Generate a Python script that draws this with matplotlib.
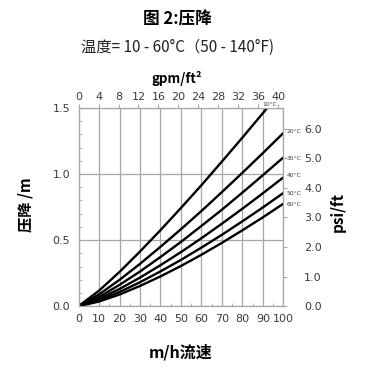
import numpy as np
import matplotlib.pyplot as plt
from matplotlib.ticker import MultipleLocator

plt.rcParams['font.family'] = ['DejaVu Sans', 'Noto Sans CJK SC']
cjk = ['Noto Sans CJK SC', 'DejaVu Sans']

# flow, m/h
flow = [0, 10, 20, 30, 40, 50, 60, 70, 80, 90, 100]
# pressure drop, m
temps = ['10°C', '20°C', '30°C', '40°C', '50°C', '60°C']
dp_10 = [0, 0.117, 0.259, 0.413, 0.575, 0.743, 0.915, 1.094, 1.275, 1.46, 1.648]
dp_20 = [0, 0.089, 0.199, 0.320, 0.449, 0.582, 0.720, 0.863, 1.009, 1.158, 1.31]
dp_30 = [0, 0.069, 0.161, 0.262, 0.372, 0.486, 0.607, 0.730, 0.859, 0.991, 1.125]
dp_40 = [0, 0.055, 0.130, 0.216, 0.310, 0.409, 0.514, 0.624, 0.737, 0.854, 0.974]
dp_50 = [0, 0.044, 0.107, 0.181, 0.263, 0.350, 0.443, 0.540, 0.642, 0.747, 0.856]
dp_60 = [0, 0.035, 0.088, 0.153, 0.225, 0.304, 0.389, 0.479, 0.574, 0.672, 0.775]
curves = [dp_10, dp_20, dp_30, dp_40, dp_50, dp_60]

gpm_max = 41.0   # top axis at x=100 m/h
psi_max = 6.7    # right axis at y=1.5 m

grey = '#a6a6a6'
txt = '#3a3a3a'

fig = plt.figure(figsize=(3.85, 3.72), dpi=100)
ax = fig.add_axes([0.204, 0.177, 0.532, 0.533])

for c in curves:
    ax.plot(flow, c, color='black', lw=1.7, solid_capstyle='butt')

ax.set_xlim(0, 100)
ax.set_ylim(0, 1.5)
ax.xaxis.set_major_locator(MultipleLocator(10))
ax.xaxis.set_minor_locator(MultipleLocator(5))
ax.yaxis.set_major_locator(MultipleLocator(0.5))
ax.yaxis.set_minor_locator(MultipleLocator(0.1))
ax.yaxis.set_major_formatter('{x:.1f}')
ax.grid(True, which='major', color=grey, lw=0.9)
for s in ax.spines.values():
    s.set_color(grey)
    s.set_linewidth(0.9)
ax.tick_params(which='both', direction='in', color=grey, labelsize=8, labelcolor=txt)
ax.tick_params(which='major', length=0, pad=6)
ax.tick_params(which='minor', length=2)

# right axis psi/ft
ax2 = ax.twinx()
ax2.set_ylim(0, psi_max)
ax2.yaxis.set_major_locator(MultipleLocator(1))
ax2.yaxis.set_major_formatter('{x:.1f}')
ax2.tick_params(axis='y', direction='out', length=3, color=grey, labelsize=8,
                labelcolor=txt, pad=12)
for s in ax2.spines.values():
    s.set_visible(False)

# top axis gpm/ft2
ax3 = ax.twiny()
ax3.set_xlim(0, gpm_max)
ax3.xaxis.set_major_locator(MultipleLocator(4))
ax3.tick_params(axis='x', direction='out', length=3, color=grey, labelsize=8,
                labelcolor=txt, pad=1)
for s in ax3.spines.values():
    s.set_visible(False)

# temperature labels
lab_pos = [(89.5, 1.51), (101.5, 1.32), (101.5, 1.12),
           (101.5, 0.985), (101.5, 0.855), (101.5, 0.77)]
for t, (x, y) in zip(temps, lab_pos):
    ax.text(x, y, t, fontsize=4.3, ha='left', va='bottom' if t == '10°C' else 'center',
            color=txt, clip_on=False)

fig.text(0.462, 0.948, '图 2:压降', ha='center', va='center', fontsize=12,
         fontweight='bold', family=cjk)
fig.text(0.462, 0.873, '温度= 10 - 60°C（50 - 140°F)', ha='center', va='center',
         fontsize=11, family=cjk, color='#222222')
fig.text(0.46, 0.79, 'gpm/ft²', ha='center', va='center', fontsize=9.5,
         fontweight='bold', family=cjk)
fig.text(0.066, 0.45, '压降 /m', ha='center', va='center', fontsize=11,
         fontweight='bold', rotation=90, family=cjk)
fig.text(0.876, 0.43, 'psi/ft', ha='center', va='center', fontsize=11,
         fontweight='bold', rotation=90, family=cjk)
fig.text(0.47, 0.052, 'm/h流速', ha='center', va='center', fontsize=11.5,
         fontweight='bold', family=cjk)

fig.savefig('out.png', dpi=100)
